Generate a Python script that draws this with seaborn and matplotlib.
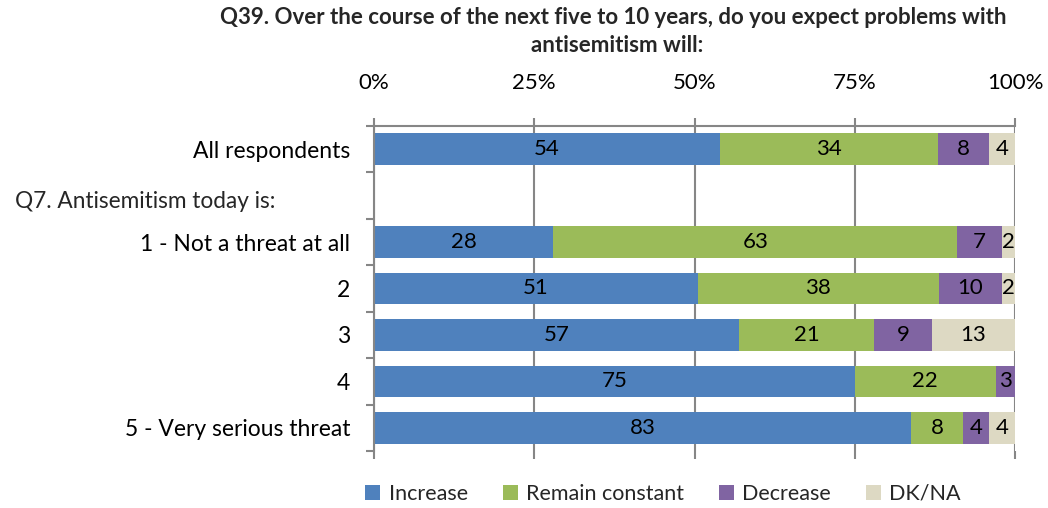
import numpy as np
import pandas as pd
import matplotlib
matplotlib.use("Agg")
import matplotlib.pyplot as plt
from matplotlib.ticker import FixedLocator, PercentFormatter
from matplotlib.patches import Patch
import seaborn as sns

# Survey answers, one list per response option (percent as reported)
rows = ["All respondents", "Q7. Antisemitism today is:", "1 - Not a threat at all",
        "2", "3", "4", "5 - Very serious threat"]
increase = [54, 0, 28, 51, 57, 75, 83]
remain_constant = [34, 0, 63, 38, 21, 22, 8]
decrease = [8, 0, 7, 10, 9, 3, 4]
dk_na = [4, 0, 2, 2, 13, 0, 4]

series_names = ["Increase", "Remain constant", "Decrease", "DK/NA"]
series_colors = ["#4F81BD", "#9BBB59", "#8064A2", "#DDD9C3"]
header_row = "Q7. Antisemitism today is:"

sns.set_theme(style="white")
plt.rcParams["font.family"] = ["Lato", "DejaVu Sans"]

values = np.array([increase, remain_constant, decrease, dk_na], dtype=float)
totals = values.sum(axis=0)
shares = np.divide(values, totals, out=np.zeros_like(values), where=totals > 0) * 100
cum = np.cumsum(shares, axis=0)

df = pd.DataFrame({"row": rows})
for i, name in enumerate(series_names):
    df[name] = cum[i]

fig = plt.figure(figsize=(10.48, 5.08), dpi=100)
ax = fig.add_axes([374 / 1048, 1 - 451 / 508, (1015 - 374) / 1048, (451 - 126) / 508])

# Stacked bars: draw cumulative totals from the outermost layer inward
for i in range(len(series_names) - 1, -1, -1):
    sns.barplot(data=df, x=series_names[i], y="row", order=rows, color=series_colors[i],
                width=0.68, orient="h", ax=ax, saturation=1, linewidth=0)

# Value labels at the centre of each segment
for j in range(len(rows)):
    for i in range(len(series_names)):
        if values[i, j] > 0:
            left = cum[i, j] - shares[i, j]
            ax.text(left + shares[i, j] / 2, j, f"{values[i, j]:.0f}", ha="center",
                    va="center", fontsize=16, color="black")

ax.set_xlim(0, 100)
ax.set_ylim(len(rows) - 0.5, -0.5)
ax.set_xlabel("")
ax.set_ylabel("")

grid_color = "#868686"
ax.xaxis.set_major_locator(FixedLocator([0, 25, 50, 75, 100]))
ax.xaxis.set_major_formatter(PercentFormatter(decimals=0))
ax.xaxis.tick_top()
ax.tick_params(axis="x", which="major", top=True, bottom=True, direction="out", length=6,
               width=1.5, color=grid_color, pad=18, labelsize=16, labelcolor="black")
ax.grid(axis="x", color=grid_color, linewidth=1.5)
ax.set_axisbelow(True)

ax.set_yticks(range(len(rows)))
ax.set_yticklabels([r if r != header_row else "" for r in rows])
ax.yaxis.set_minor_locator(FixedLocator(np.arange(-0.5, len(rows), 1.0)))
ax.tick_params(axis="y", which="major", length=0, pad=17, labelsize=16.5, labelcolor="black")
ax.tick_params(axis="y", which="minor", left=True, length=6, width=1.5, color=grid_color)

for side in ["right", "bottom"]:
    ax.spines[side].set_visible(False)
for side in ["left", "top"]:
    ax.spines[side].set_color(grid_color)
    ax.spines[side].set_linewidth(1.5)

# Sub-heading row label sits flush left
fig.text(15 / 1048, 1 - 201 / 508, header_row, ha="left", va="center", fontsize=16.3)

fig.text(613 / 1048, 1 - 18 / 508,
         "Q39. Over the course of the next five to 10 years, do you expect problems with",
         ha="center", va="center", fontsize=16, fontweight="bold")
fig.text(617 / 1048, 1 - 45 / 508, "antisemitism will:", ha="center", va="center",
         fontsize=16, fontweight="bold")

handles = [Patch(facecolor=c, edgecolor="none") for c in series_colors]
fig.legend(handles, series_names, loc="center", bbox_to_anchor=(663 / 1048, 1 - 494 / 508),
           ncol=4, frameon=False, fontsize=15.5, handlelength=0.7, handleheight=0.7,
           handletextpad=0.4, columnspacing=1.6)

fig.savefig("out.png", dpi=100)
